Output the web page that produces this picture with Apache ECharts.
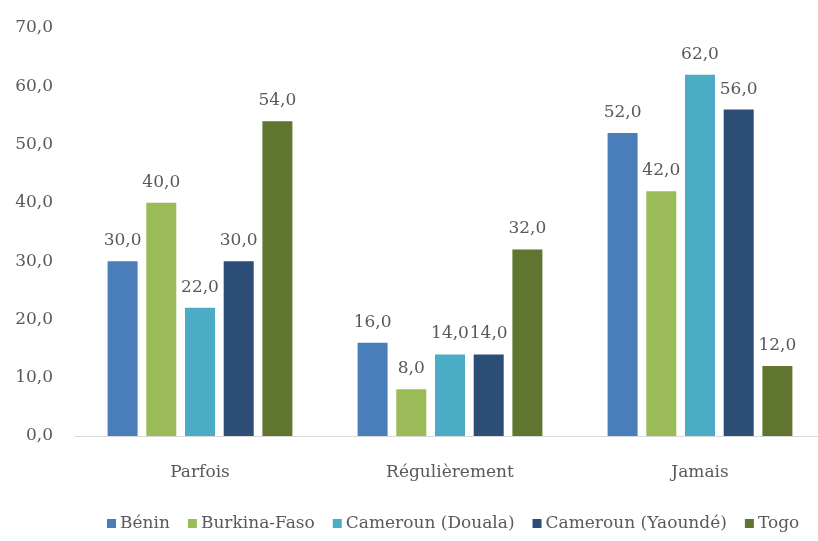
<!DOCTYPE html>
<html>
<head>
<meta charset="utf-8">
<script src="https://cdn.jsdelivr.net/npm/echarts@6/dist/echarts.min.js"></script>
<style>
  html, body { margin: 0; padding: 0; background: #ffffff; overflow: hidden; }
  /* canvas runs a little past the right edge so the last bar group keeps full spacing */
  #chart { width: 832px; height: 541px; }
</style>
</head>
<body>
<div id="chart"></div>
<script>
// Response categories on the x axis
const categories = ['Parfois', 'Régulièrement', 'Jamais'];

// Share of respondents (%) per country
const benin = [30, 16, 52];
const burkinaFaso = [40, 8, 42];
const camerounDouala = [22, 14, 62];
const camerounYaounde = [30, 14, 56];
const togo = [54, 32, 12];

const seriesNames = ['Bénin', 'Burkina-Faso', 'Cameroun (Douala)', 'Cameroun (Yaoundé)', 'Togo'];
const seriesValues = [benin, burkinaFaso, camerounDouala, camerounYaounde, togo];
const seriesColors = ['#4a7ebb', '#9bbb59', '#4bacc6', '#2c4d75', '#5f7530'];

const yTicks = { min: 0, max: 70, interval: 10 };

const fontFamily = '"DejaVu Serif", "Liberation Serif", serif';
const textColor = '#595959';

const fmt = v => v.toFixed(1).replace('.', ',');

const chart = echarts.init(document.getElementById('chart'));

chart.setOption({
  animation: false,
  backgroundColor: '#ffffff',
  grid: { left: 75, top: 28, width: 750, height: 408, containLabel: false },
  legend: {
    bottom: 4,
    left: 102,
    itemWidth: 9,
    itemHeight: 9,
    itemGap: 18,
    icon: 'rect',
    textStyle: { fontFamily, fontSize: 17, color: textColor, padding: [0, 0, 0, -1] },
    data: seriesNames
  },
  xAxis: {
    type: 'category',
    data: categories,
    axisLine: { lineStyle: { color: '#d9d9d9', width: 1 } },
    axisTick: { show: false },
    axisLabel: { fontFamily, fontSize: 17, color: textColor, margin: 28 }
  },
  yAxis: {
    type: 'value',
    min: yTicks.min,
    max: yTicks.max,
    interval: yTicks.interval,
    axisLine: { show: false },
    axisTick: { show: false },
    splitLine: { show: false },
    axisLabel: { fontFamily, fontSize: 17, color: textColor, margin: 22, formatter: fmt }
  },
  series: seriesNames.map((name, i) => ({
    name,
    type: 'bar',
    data: seriesValues[i],
    barWidth: 30,
    barGap: '29%',
    itemStyle: { color: seriesColors[i] },
    label: {
      show: true,
      position: 'top',
      distance: 12,
      fontFamily,
      fontSize: 17,
      color: textColor,
      formatter: p => fmt(p.value)
    }
  }))
});
</script>
</body>
</html>
